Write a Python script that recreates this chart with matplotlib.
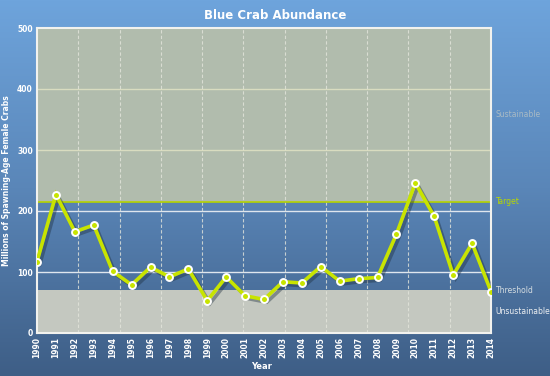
import numpy as np
import matplotlib
matplotlib.use("Agg")
import matplotlib.pyplot as plt
import matplotlib.patheffects as pe
from matplotlib.colors import LinearSegmentedColormap

years = list(range(1990, 2015))
abundance = [117, 227, 166, 177, 101, 79, 108, 92, 105, 53, 92, 61, 55,
             84, 82, 109, 85, 89, 91, 162, 246, 191, 95, 147, 68]
target = 215
threshold = 70
y_ticks = [0, 100, 200, 300, 400, 500]
zone_labels = ["Sustainable", "Target", "Threshold", "Unsustainable"]

fig = plt.figure(figsize=(5.5, 3.76), dpi=100)

# background gradient
bg = fig.add_axes([0, 0, 1, 1], zorder=-10)
cmap = LinearSegmentedColormap.from_list("bg", ["#6ea4dc", "#5a86b8", "#3e5e86"])
grad = np.linspace(0, 1, 256).reshape(-1, 1)
bg.imshow(grad, aspect="auto", cmap=cmap, extent=[0, 1, 0, 1])
bg.axis("off")

ax = fig.add_axes([37/550, 43/376, 454/550, 305/376])
ax.set_facecolor("none")
ax.set_xlim(1990, 2014)
ax.set_ylim(0, 500)

# zones
ax.axhspan(target, 500, color="#b1bcad", zorder=0, lw=0)
ax.axhspan(0, threshold, color="#c4c8c0", zorder=0, lw=0)

# horizontal gridlines
for v in y_ticks[1:-1]:
    col = "#d9dcc0" if (v > target or v < threshold) else "#dfe6ee"
    ax.axhline(v, color=col, lw=1, zorder=1)
# vertical dashed gridlines
for xv in np.linspace(1990, 2014, 12)[1:-1]:
    ax.axvline(xv, color="#e4e6dc", lw=0.8, ls=(0, (3, 2)), zorder=1, alpha=0.8)

ax.axhline(target, color="#b4d400", lw=1.2, zorder=2)

# data line
ax.plot(years, abundance, color="#c8e400", lw=2.6, zorder=5,
        solid_joinstyle="miter",
        path_effects=[pe.SimpleLineShadow(offset=(2, -2), shadow_color="#1c2c3c", alpha=0.4),
                      pe.Normal()])
ax.plot(years, abundance, ls="none", marker="o", ms=5, mfc="#c8e400",
        mec="white", mew=1.4, zorder=6)

for s in ax.spines.values():
    s.set_color("#f2f2ee")
    s.set_linewidth(1.5)

ax.set_xticks(years)
ax.set_xticklabels([str(y) for y in years], rotation=90, fontsize=5.5,
                   color="white", fontweight="bold")
ax.set_yticks(y_ticks)
ax.set_yticklabels([str(v) for v in y_ticks], fontsize=5.5, color="white",
                   fontweight="bold")
ax.tick_params(length=0, pad=3)

ax.set_xlabel("Year", color="white", fontsize=6, fontweight="bold")
ax.xaxis.set_label_coords(0.495, -0.095)
ax.set_ylabel("Millions of Spawning-Age Female Crabs", color="white",
              fontsize=5.5, fontweight="bold")
ax.yaxis.set_label_coords(-0.058, 0.5)

fig.text(0.5, 0.958, "Blue Crab Abundance", color="white", fontsize=8.5,
         fontweight="bold", ha="center", va="center")

tr = ax.get_yaxis_transform()
ax.text(1.01, (target + 500) / 2, zone_labels[0], transform=tr, color="#a9bac4",
        fontsize=5.5, va="center", ha="left")
ax.text(1.01, target, zone_labels[1], transform=tr, color="#b8d800",
        fontsize=5.5, va="center", ha="left")
ax.text(1.01, threshold, zone_labels[2], transform=tr, color="#d4dce0",
        fontsize=5.5, va="center", ha="left")
ax.text(1.01, threshold / 2, zone_labels[3], transform=tr, color="#eef0f2",
        fontsize=5.5, va="center", ha="left")

fig.savefig("out.png", dpi=100)
